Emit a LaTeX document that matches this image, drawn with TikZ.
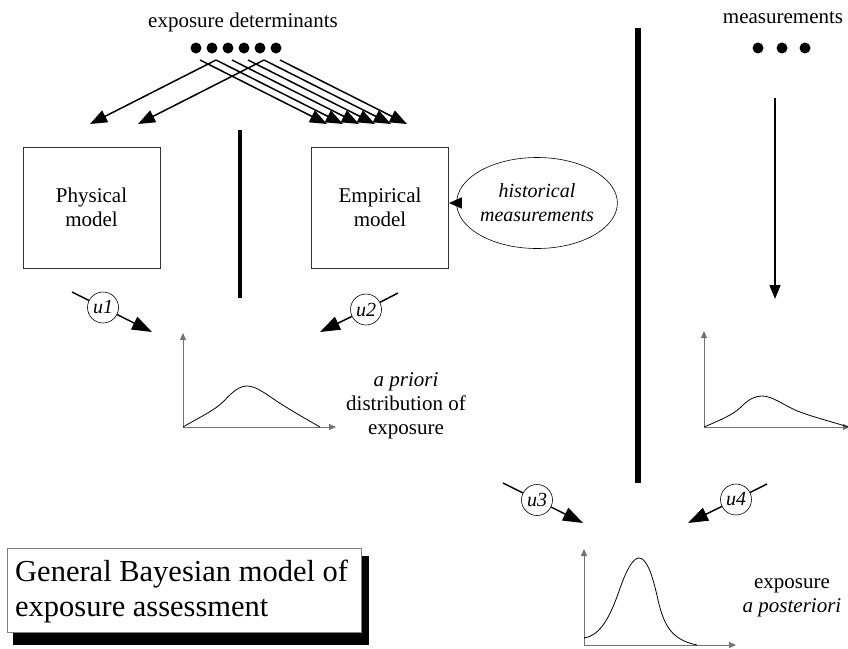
\documentclass[tikz,border=0pt]{standalone}
\usepackage{fontspec}
\setmainfont{Liberation Serif}
\usetikzlibrary{arrows.meta,shapes.geometric}
\begin{document}
\begin{tikzpicture}[x=1pt,y=-1pt,
  txt/.style={font=\fontsize{21}{24}\selectfont, align=center, inner sep=0pt},
  dotnode/.style={circle, fill=black, minimum size=11pt, inner sep=0pt},
  modelbox/.style={draw=black!80, line width=0.8pt, minimum width=137pt, minimum height=121pt, align=center, font=\fontsize{21}{24}\selectfont},
  ucirc/.style={circle, draw, fill=white, line width=0.6pt, minimum size=31pt, inner sep=0pt, font=\fontsize{20}{24}\selectfont\itshape},
  bigarrow/.style={line width=1.5pt, -{Triangle[length=20pt,width=14pt]}},
  detarrow/.style={line width=1.5pt, -{Triangle[length=17pt,width=13pt]}},
  axisline/.style={draw=black!55, line width=1pt, -{Triangle[length=7pt,width=6pt]}},
  curveline/.style={line width=0.8pt},
  bar/.style={line width=4.5pt}
]
\useasboundingbox (0,0) rectangle (848,648);

% ---- exposure determinants ----
\node[txt] (dettitle) at (243,22) {exposure determinants};
\foreach \i/\x in {1/196,2/212,3/228,4/244,5/260,6/276}{
  \node[dotnode] (d\i) at (\x,48) {};
  \coordinate (s\i) at (\x+4,60);
}
\foreach \i/\x in {1/327,2/343,3/359,4/375,5/391,6/407}{
  \coordinate (r\i) at (\x,124);
}
\coordinate (l1) at (90,124);
\coordinate (l2) at (138,124);
\draw[detarrow] (s2) -- (l1);
\draw[detarrow] (s5) -- (l2);
\foreach \i in {1,...,6}{ \draw[detarrow] (s\i) -- (r\i); }

% ---- model boxes ----
\node[modelbox] (phys) at (91.5,207.5) {Physical\\model};
\node[modelbox] (emp) at (380,207.5) {Empirical\\model};
\node[draw, ellipse, line width=0.6pt, minimum width=120pt, minimum height=91pt, inner sep=0pt, align=center, font=\fontsize{20}{24}\selectfont\itshape] (hist) at (537,203) {historical\\measurements};
\draw[line width=1.5pt, -{Triangle[length=13pt,width=11pt]}] (hist.west) -- (emp.east |- hist.west);

% ---- thick bars ----
\coordinate (b1t) at (240,130); \coordinate (b1b) at (240,298);
\draw[bar] (b1t) -- (b1b);
\coordinate (b2t) at (638,28); \coordinate (b2b) at (638,483);
\draw[bar, line width=5.5pt] (b2t) -- (b2b);

% ---- measurements ----
\node[txt] (meastitle) at (783,18) {measurements};
\foreach \i/\x in {1/758,2/782,3/805}{ \node[dotnode] (m\i) at (\x,48) {}; }
\coordinate (ma) at (775,98); \coordinate (mb) at (775,299);
\draw[line width=1.5pt, -{Triangle[length=14pt,width=11pt]}] (ma) -- (mb);

% ---- uncertainty circles ----
\coordinate (a1) at (72,292); \coordinate (t1) at (152,332);
\node[ucirc] (u1) at (103,307.5) {u1};
\draw[line width=1.5pt] (a1) -- (u1); \draw[bigarrow] (u1) -- (t1);

\coordinate (a2) at (398,293); \coordinate (t2) at (320,332);
\node[ucirc] (u2) at (366,309.5) {u2};
\draw[line width=1.5pt] (a2) -- (u2); \draw[bigarrow] (u2) -- (t2);

\coordinate (a3) at (503,483); \coordinate (t3) at (583,523);
\node[ucirc] (u3) at (537,500) {u3};
\draw[line width=1.5pt] (a3) -- (u3); \draw[bigarrow] (u3) -- (t3);

\coordinate (a4) at (767,484); \coordinate (t4) at (688,523);
\node[ucirc] (u4) at (736,499.5) {u4};
\draw[line width=1.5pt] (a4) -- (u4); \draw[bigarrow] (u4) -- (t4);

% ---- a priori distribution ----
\coordinate (o1) at (183,427);
\coordinate (y1) at (183,333); \coordinate (x1) at (336,427);
\draw[axisline] (o1) -- (y1);
\draw[axisline] (o1) -- (x1);
\draw[curveline] (183,427) .. controls (198,418) and (214,411) .. (224,401)
  .. controls (233,391) and (240,386) .. (247,386)
  .. controls (256,386) and (266,394) .. (278,402)
  .. controls (292,411) and (306,419) .. (320,427);
\node[txt] (prior) at (406,406) {\itshape a priori\\distribution of\\exposure};

% ---- measurement distribution ----
\coordinate (o2) at (704,427);
\coordinate (y2) at (704,331); \coordinate (x2) at (850,427);
\draw[axisline] (o2) -- (y2);
\draw[axisline] (o2) -- (x2);
\draw[curveline] (704,427) .. controls (718,421) and (733,415) .. (741,407)
  .. controls (749,399) and (755,396) .. (762,396)
  .. controls (772,396) and (782,404) .. (795,410)
  .. controls (812,417) and (830,421) .. (848,427);

% ---- posterior distribution ----
\coordinate (o3) at (584,645);
\coordinate (y3) at (584,549); \coordinate (x3) at (736,645);
\draw[axisline] (o3) -- (y3);
\draw[axisline] (o3) -- (x3);
\draw[curveline] (584,638) .. controls (598,636) and (608,622) .. (618,594)
  .. controls (626,570) and (633,558) .. (639,558)
  .. controls (646,558) and (652,572) .. (658,600)
  .. controls (664,626) and (672,640) .. (697,645);
\node[txt] (post) at (792,598) {exposure\\\itshape a posteriori};

% ---- title box ----
\coordinate (sh1) at (13,556); \coordinate (sh2) at (369,645);
\fill[black] (sh1) rectangle (sh2);
\coordinate (bx1) at (7,548); \coordinate (bx2) at (361,632);
\draw[draw=black!50, line width=1pt, fill=white] (bx1) rectangle (bx2);
\node[anchor=west, align=left, inner sep=0pt, font=\fontsize{30.5}{35}\selectfont] (title) at (15,591) {General Bayesian model of\\exposure assessment};
\end{tikzpicture}
\end{document}
